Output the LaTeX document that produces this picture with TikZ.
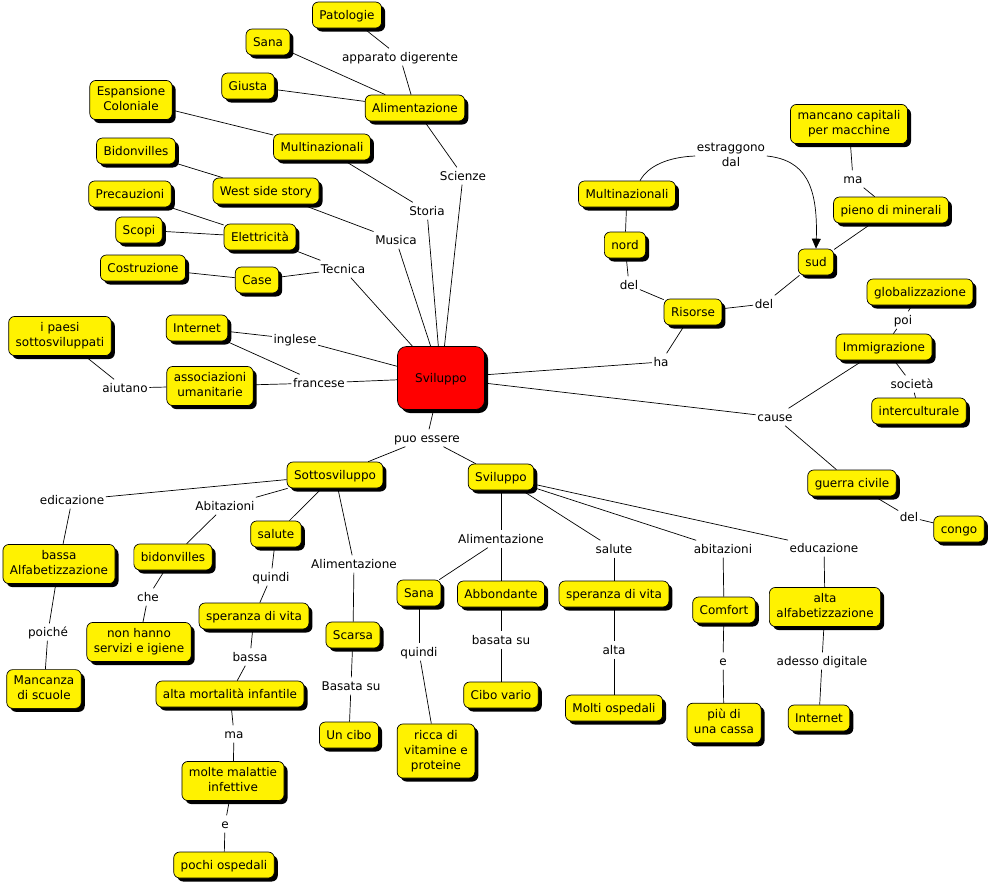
\documentclass[tikz,border=0pt]{standalone}
\usepackage{fontspec}
\setmainfont{DejaVu Sans}
\usetikzlibrary{shadows,arrows.meta,backgrounds}
\newcommand{\boxstrut}{\rule[-3pt]{0pt}{14pt}}

\begin{document}
\begin{tikzpicture}[x=1pt, y=-1pt,
	every node/.style={font=\fontsize{12}{15}\selectfont, align=center,
		execute at begin node=\boxstrut, execute at end node=\boxstrut},
	concept/.style={draw=black, line width=0.7pt, fill=yellow, rounded corners=6pt,
		inner xsep=7pt, inner ysep=6pt,
		drop shadow={shadow xshift=3.5pt, shadow yshift=-3.5pt, fill=black, opacity=1}},
	link/.style={inner sep=1.5pt},
	conn/.style={line width=0.7pt}]
\useasboundingbox (0,0) rectangle (991,887);

% main concept
\node [concept, fill=red, minimum width=87pt, minimum height=63pt, rounded corners=9pt] (svil) at (441,378) {Sviluppo};

% concepts
\foreach \nm/\x/\y/\txt in {
		patol/347/15/Patologie,
		sanaA/268/42/Sana,
		giusta/248/86/Giusta,
		alimA/415/108/Alimentazione,
		espans/131/100/Espansione\\Coloniale,
		multiL/322/147/Multinazionali,
		bidonA/136/151/Bidonvilles,
		west/266/191/West side story,
		precau/130/194/Precauzioni,
		elettr/260/237/Elettricità,
		scopi/139/230/Scopi,
		costr/143/268/Costruzione,
		case/257/280/Case,
		paesi/60/336/i paesi\\sottosviluppati,
		internA/197/328/Internet,
		assoc/210/386/associazioni\\umanitarie,
		mancano/849/124/mancano capitali\\per macchine,
		pieno/891/210/pieno di minerali,
		multiR/627/194/Multinazionali,
		nord/625/245/nord,
		sud/816/262/sud,
		risorse/693/312/Risorse,
		global/920/292/globalizzazione,
		immigr/884/347/Immigrazione,
		intercult/919/411/interculturale,
		guerra/852/483/guerra civile,
		congo/959/529/congo,
		sotto/335/475/Sottosviluppo,
		svilY/501/477/Sviluppo,
		bassaA/59/564/bassa\\Alfabetizzazione,
		bidonB/173/557/bidonvilles,
		saluteA/276/534/salute,
		speranzaA/254/616/speranza di vita,
		nonhanno/139/642/non hanno\\servizi e igiene,
		mancanza/44/689/Mancanza\\di scuole,
		mortal/230/694/alta mortalità infantile,
		scarsa/353/635/Scarsa,
		uncibo/349/735/Un cibo,
		malattie/233/781/molte malattie\\infettive,
		pochi/224/865/pochi ospedali,
		sanaB/419/593/Sana,
		abbond/501/594/Abbondante,
		speranzaB/614/594/speranza di vita,
		comfort/724/610/Comfort,
		altaalf/825/607/alta\\alfabetizzazione,
		cibo/501/695/Cibo vario,
		molti/614/708/Molti ospedali,
		piu/724/723/più di\\una cassa,
		internB/819/718/Internet,
		ricca/436/751/ricca di\\vitamine e\\proteine}
	\node [concept] (\nm) at (\x,\y) {\txt};

% linking phrases
\foreach \nm/\x/\y/\txt in {
		lScienze/463/176/Scienze,
		lappar/400/57/apparato digerente,
		lStoria/427/211/Storia,
		lMusica/396/240/Musica,
		lTecnica/343/269/Tecnica,
		linglese/295/339/inglese,
		lfrancese/319/383/francese,
		laiutano/125/388/aiutano,
		lestr/731/156/estraggono\\dal,
		lma/853/179/ma,
		ldelA/629/285/del,
		ldelB/764/304/del,
		lha/661/362/ha,
		lpoi/903/320/poi,
		lsocieta/912/384/società,
		lcause/775/417/cause,
		ldelC/909/517/del,
		lpuo/427/438/puo essere,
		ledic/72/500/edicazione,
		lAbit/225/506/Abitazioni,
		lquindiA/271/577/quindi,
		lche/148/597/che,
		lpoiche/48/632/poiché,
		lbassa/250/657/bassa,
		lAlimA/354/564/Alimentazione,
		lBasata/351/686/Basata su,
		lmaB/234/734/ma,
		le/225/824/e,
		lAlimB/501/539/Alimentazione,
		lsaluteB/614/549/salute,
		labit/723/549/abitazioni,
		leduc/824/548/educazione,
		lquindiB/419/652/quindi,
		lbasata/501/640/basata su,
		lalta/614/650/alta,
		leB/723/661/e,
		ladesso/822/661/adesso digitale}
	\node [link] (\nm) at (\x,\y) {\txt};

% connections
\begin{scope}[on background layer]
\foreach \a/\b in {
		svil/lScienze, lScienze/alimA, alimA/lappar, lappar/patol, alimA/sanaA, alimA/giusta,
		svil/lStoria, lStoria/multiL, multiL/espans,
		svil/lMusica, lMusica/west, west/bidonA,
		svil/lTecnica, lTecnica/elettr, lTecnica/case, elettr/precau, elettr/scopi, case/costr,
		svil/linglese, linglese/internA, svil/lfrancese, lfrancese/internA, lfrancese/assoc,
		assoc/laiutano, laiutano/paesi,
		svil/lha, lha/risorse, risorse/ldelA, ldelA/nord, nord/multiR,
		risorse/ldelB, ldelB/sud, sud/pieno, pieno/lma, lma/mancano,
		svil/lcause, lcause/immigr, lcause/guerra, immigr/lpoi, lpoi/global,
		immigr/lsocieta, lsocieta/intercult, guerra/ldelC, ldelC/congo,
		svil/lpuo, lpuo/sotto, lpuo/svilY,
		sotto/ledic, ledic/bassaA, bassaA/lpoiche, lpoiche/mancanza,
		sotto/lAbit, lAbit/bidonB, bidonB/lche, lche/nonhanno,
		sotto/saluteA, saluteA/lquindiA, lquindiA/speranzaA, speranzaA/lbassa, lbassa/mortal,
		mortal/lmaB, lmaB/malattie, malattie/le, le/pochi,
		sotto/lAlimA, lAlimA/scarsa, scarsa/lBasata, lBasata/uncibo,
		svilY/lAlimB, lAlimB/sanaB, lAlimB/abbond, sanaB/lquindiB, lquindiB/ricca,
		abbond/lbasata, lbasata/cibo,
		svilY/lsaluteB, lsaluteB/speranzaB, speranzaB/lalta, lalta/molti,
		svilY/labit, labit/comfort, comfort/leB, leB/piu,
		svilY/leduc, leduc/altaalf, altaalf/ladesso, ladesso/internB}
	\draw [conn] (\a) -- (\b);

\draw [conn] ([xshift=13pt]multiR.north) .. controls (648,166) and (668,157) .. (lestr.west);
\draw [conn, -{Triangle[length=10pt, width=9pt]}] (lestr.east) .. controls (805,160) and (818,185) .. (sud.north);
\end{scope}

\end{tikzpicture}
\end{document}
